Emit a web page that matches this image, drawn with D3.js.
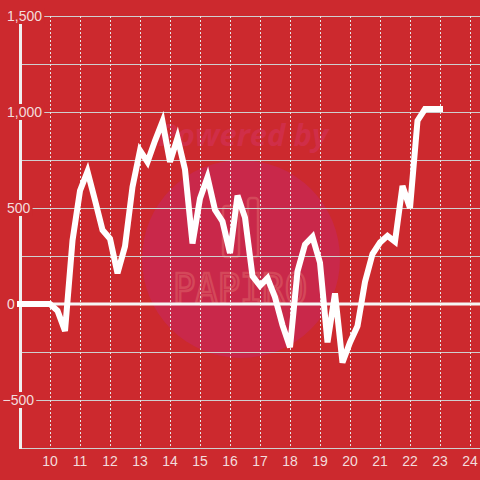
<!DOCTYPE html>
<html><head><meta charset="utf-8">
<script src="https://cdn.jsdelivr.net/npm/d3@7"></script>
<style>html,body{margin:0;padding:0;background:#cc292e;}svg{display:block;}</style>
</head><body>
<script>
// ---- data ----
const times = [9, 9.25, 9.5, 9.75, 10, 10.25, 10.5, 10.75, 11, 11.25, 11.5, 11.75, 12, 12.25, 12.5, 12.75,
  13, 13.25, 13.5, 13.75, 14, 14.25, 14.5, 14.75, 15, 15.25, 15.5, 15.75, 16, 16.25, 16.5, 16.75,
  17, 17.25, 17.5, 17.75, 18, 18.25, 18.5, 18.75, 19, 19.25, 19.5, 19.75, 20, 20.25, 20.5, 20.75,
  21, 21.25, 21.5, 21.75, 22, 22.25, 22.5, 22.75, 23];
const values = [0, 0, 0, 0, 0, -35, -140, 330, 590, 690, 540, 385, 340, 160, 300, 610,
  800, 740, 850, 950, 740, 865, 700, 315, 550, 660, 490, 430, 265, 565, 450, 145,
  95, 135, 35, -110, -225, 170, 310, 350, 215, -200, 55, -305, -200, -115, 115, 260,
  320, 355, 325, 615, 500, 955, 1015, 1015, 1015];
const xTicks = [10, 11, 12, 13, 14, 15, 16, 17, 18, 19, 20, 21, 22, 23, 24];
const yLabelTicks = [-500, 0, 500, 1000, 1500];
const yGridTicks = [-750, -500, -250, 250, 500, 750, 1000, 1250, 1500];

const W = 480, H = 480;
const x = d3.scaleLinear().domain([9, 24 + 1/3]).range([20, 480]);
const y = d3.scaleLinear().domain([-750, 1500]).range([448, 16]);

const svg = d3.select("body").append("svg").attr("width", W).attr("height", H);
svg.append("rect").attr("width", W).attr("height", H).attr("fill", "#cc292e");

// watermark
const wm = svg.append("g");
wm.append("circle").attr("cx", 241).attr("cy", 259).attr("r", 99).attr("fill", "#c9284a");
wm.append("text").attr("x", 243).attr("y", 146).attr("text-anchor", "middle")
  .attr("font-family", "Open Sans, sans-serif").attr("font-weight", "bold").attr("font-style", "italic")
  .attr("font-size", 31).attr("fill", "#d02e48").text("Powered by");
wm.append("rect").attr("x", 223).attr("y", 206).attr("width", 16).attr("height", 51).attr("rx", 3)
  .attr("fill", "none").attr("stroke", "#d4485a").attr("stroke-width", 2.5);
wm.append("rect").attr("x", 248).attr("y", 198).attr("width", 10).attr("height", 59).attr("rx", 3)
  .attr("fill", "none").attr("stroke", "#d4485a").attr("stroke-width", 2.5);
wm.append("text").attr("x", 240).attr("y", 303).attr("text-anchor", "middle")
  .attr("font-family", "DejaVu Sans Mono, monospace").attr("font-size", 40)
  .attr("textLength", 134).attr("lengthAdjust", "spacingAndGlyphs")
  .attr("fill", "none").attr("stroke", "#d4485a").attr("stroke-width", 2.5).text("PAPIRO");

// horizontal grid
svg.append("g").selectAll("line").data(yGridTicks).join("line")
  .attr("x1", 20).attr("x2", W)
  .attr("y1", d => Math.round(y(d)) + 0.5).attr("y2", d => Math.round(y(d)) + 0.5)
  .attr("stroke", "#cfcfcf").attr("stroke-width", 1);

// vertical dotted grid
svg.append("g").selectAll("line").data(xTicks).join("line")
  .attr("x1", d => Math.round(x(d)) + 0.5).attr("x2", d => Math.round(x(d)) + 0.5)
  .attr("y1", 16).attr("y2", 448)
  .attr("stroke", "#e6e6e6").attr("stroke-width", 1).attr("stroke-dasharray", "2,2");

// zero line
svg.append("line").attr("x1", 17).attr("x2", W).attr("y1", y(0)).attr("y2", y(0))
  .attr("stroke", "#f5f5f5").attr("stroke-width", 3);

// y axis line
svg.append("line").attr("x1", 20.5).attr("x2", 20.5).attr("y1", 16).attr("y2", 449)
  .attr("stroke", "#f0f0f0").attr("stroke-width", 3);

// y labels with background boxes
const fmt = d3.format(",");
const yl = svg.append("g").selectAll("g").data(yLabelTicks).join("g");
yl.each(function(d) {
  const g = d3.select(this);
  const r = g.append("rect").attr("fill", "#cc292e");
  const t = g.append("text").attr("x", d < 0 ? 2.5 : 7).attr("y", y(d)).attr("dy", "0.35em")
    .attr("font-family", "Liberation Sans, Arial, sans-serif").attr("font-size", 14)
    .attr("fill", "#f3dcdc").text(fmt(d));
  const bb = t.node().getBBox();
  r.attr("x", 0).attr("y", y(d) - 8).attr("width", bb.x + bb.width + 2).attr("height", 16);
});

// x labels
svg.append("g").selectAll("text").data(xTicks).join("text")
  .attr("x", d => x(d)).attr("y", 461).attr("dy", "0.35em").attr("text-anchor", "middle")
  .attr("font-family", "Liberation Sans, Arial, sans-serif").attr("font-size", 14)
  .attr("fill", "#f3dcdc").text(d => d);

// data line
const pts = times.map((t, i) => [t, values[i]]);
svg.append("path").datum(pts)
  .attr("d", d3.line().x(d => x(d[0])).y(d => y(d[1])))
  .attr("fill", "none").attr("stroke", "#ffffff").attr("stroke-width", 6)
  .attr("stroke-linejoin", "miter").attr("stroke-linecap", "square");
</script>
</body></html>
